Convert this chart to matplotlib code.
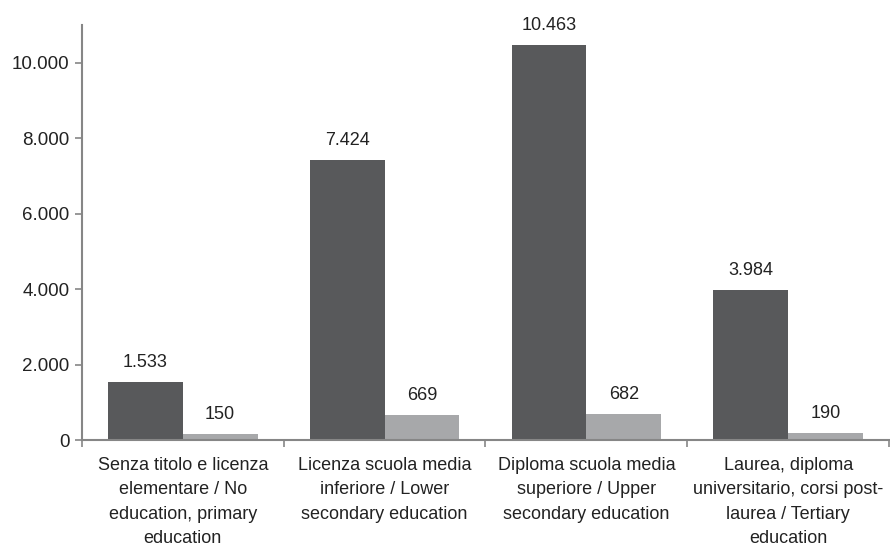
import matplotlib.pyplot as plt
import numpy as np
from matplotlib.ticker import FuncFormatter, FixedLocator

plt.rcParams['font.family'] = ['Liberation Sans', 'DejaVu Sans']

categories = [
    "Senza titolo e licenza\nelementare / No\neducation, primary\neducation",
    "Licenza scuola media\ninferiore / Lower\nsecondary education",
    "Diploma scuola media\nsuperiore / Upper\nsecondary education",
    "Laurea, diploma\nuniversitario, corsi post-\nlaurea / Tertiary\neducation",
]
series_dark = [1533, 7424, 10463, 3984]
series_light = [150, 669, 682, 190]
y_ticks = [0, 2000, 4000, 6000, 8000, 10000]

DARK = '#58595b'
LIGHT = '#a7a8aa'
AXIS = '#868686'
TXT = '#222222'


def it_fmt(v, pos=None):
    return f"{int(round(v)):,}".replace(",", ".")


fig = plt.figure(figsize=(8.9, 5.47), dpi=100)
ax = fig.add_axes([0.0921, 0.1956, 0.9068, 0.7584])

x = np.arange(len(categories))
w = 0.37
b1 = ax.bar(x - w / 2, series_dark, w, color=DARK)
b2 = ax.bar(x + w / 2, series_light, w, color=LIGHT)

for bars, vals in ((b1, series_dark), (b2, series_light)):
    for bar, v in zip(bars, vals):
        ax.annotate(it_fmt(v), (bar.get_x() + bar.get_width() / 2, v),
                    xytext=(0, 8), textcoords='offset points',
                    ha='center', va='bottom', fontsize=13, color=TXT)

ax.set_xlim(-0.5, len(categories) - 0.5)
ax.set_ylim(0, 11000)
ax.set_yticks(y_ticks)
ax.yaxis.set_major_formatter(FuncFormatter(it_fmt))

ax.set_xticks(x)
ax.set_xticklabels(categories, fontsize=13, linespacing=1.58, color=TXT)
ax.xaxis.set_minor_locator(FixedLocator(np.arange(len(categories) + 1) - 0.5))
ax.tick_params(axis='x', which='major', length=0, pad=12)
ax.tick_params(axis='x', which='minor', length=5, width=1.2, color=AXIS)
ax.tick_params(axis='y', length=5, width=1.2, color=AXIS, labelsize=13.5,
               labelcolor=TXT, pad=4)

for s in ('top', 'right'):
    ax.spines[s].set_visible(False)
for s in ('left', 'bottom'):
    ax.spines[s].set_color(AXIS)
    ax.spines[s].set_linewidth(1.5)

fig.savefig('out.png', dpi=100)
